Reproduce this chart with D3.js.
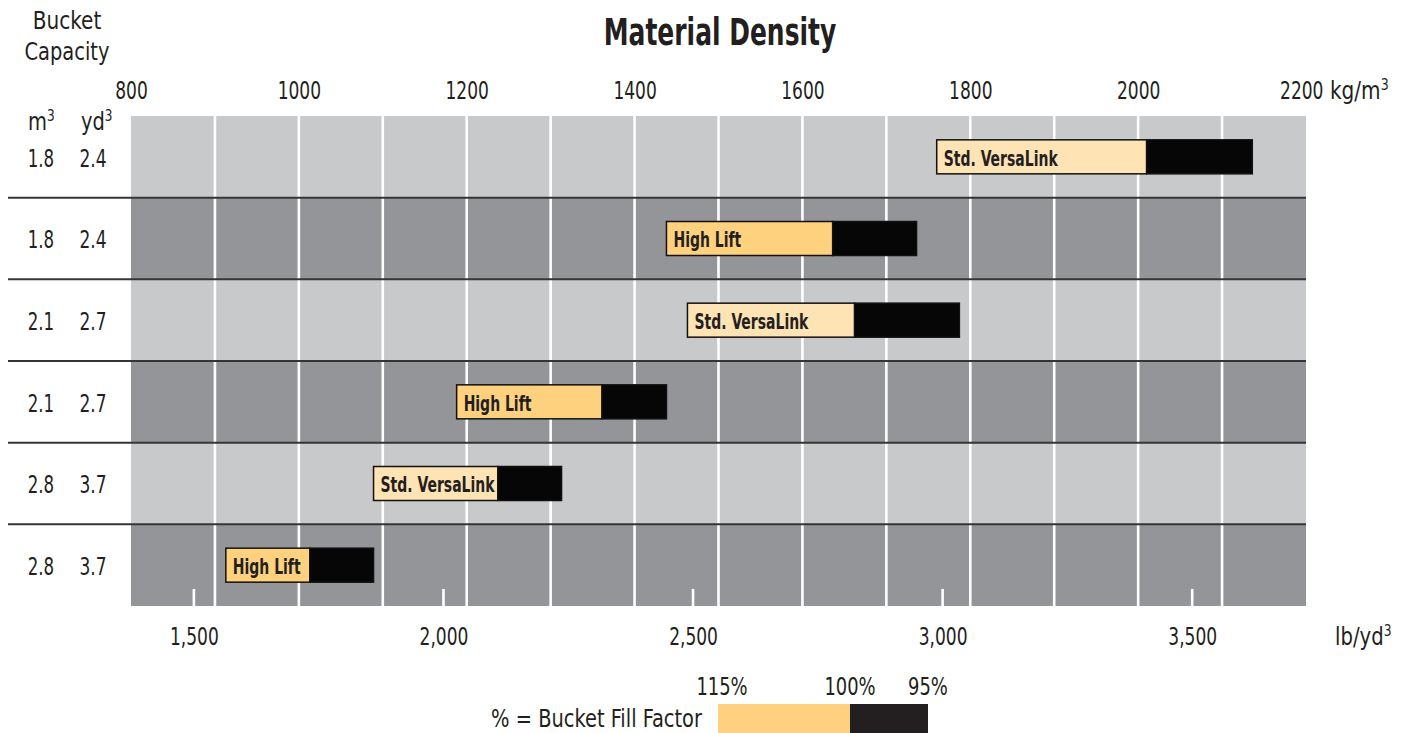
<!DOCTYPE html>
<html lang="en">
<head>
<meta charset="UTF-8">
<title>Material Density</title>
<style>
    body { margin: 0; background: #fff; }
    svg text {
        font-family: "Liberation Sans Narrow", "Arial Narrow", "DejaVu Sans Condensed", sans-serif;
        fill: #231f20;
    }
    .title { font-size: 37px; font-weight: bold; }
    .lbl { font-size: 24px; }
    .bar-label { font-size: 21px; font-weight: bold; }
</style>
</head>
<body>
<div id="chart"></div>
<script src="https://d3js.org/d3.v7.min.js"></script>
<script>
// one row per bucket, top to bottom
const buckets = ["Std. VersaLink", "High Lift", "Std. VersaLink", "High Lift", "Std. VersaLink", "High Lift"];
const capacityM3 = ["1.8", "1.8", "2.1", "2.1", "2.8", "2.8"];
const capacityYd3 = ["2.4", "2.4", "2.7", "2.7", "3.7", "3.7"];
// material density (kg/m3) at 115%, 100% and 95% bucket fill
const density115 = [1760, 1438, 1463, 1188, 1089, 913];
const density100 = [2010, 1636, 1662, 1361, 1237, 1013];
const density95 = [2136, 1736, 1787, 1438, 1313, 1089];

const kgTicks = [800, 1000, 1200, 1400, 1600, 1800, 2000, 2200];
const lbTicks = [1500, 2000, 2500, 3000, 3500];
const fillLabels = ["115%", "100%", "95%"];

const width = 1407, height = 733;
const plotLeft = 131, plotRight = 1306, plotTop = 116, plotBottom = 606;

// squeeze text horizontally around its x so it looks like a condensed face
function condense(sel, s) {
    sel.attr("transform", function() {
        const x0 = +this.getAttribute("x") || 0;
        return `translate(${x0 * (1 - s)},0) scale(${s},1)`;
    });
}

const svg = d3.select("#chart").append("svg")
    .attr("width", width)
    .attr("height", height);

const x = d3.scaleLinear().domain([800, 2200]).range([plotLeft, plotRight]);
// lb/yd3 scale as printed on the original chart
const xLb = d3.scaleLinear().domain([1374, 3728]).range([plotLeft, plotRight]);
const y = d3.scaleBand().domain(d3.range(buckets.length)).range([plotTop, plotBottom]);

// row backgrounds
svg.append("g")
    .selectAll("rect")
    .data(buckets)
    .join("rect")
    .attr("x", plotLeft)
    .attr("y", (d, i) => y(i))
    .attr("width", plotRight - plotLeft)
    .attr("height", y.bandwidth())
    .attr("fill", (d, i) => i % 2 ? "#939598" : "#c8c9cb");

// white grid every 100 kg/m3
svg.append("g")
    .selectAll("line")
    .data(d3.range(900, 2200, 100))
    .join("line")
    .attr("x1", d => x(d)).attr("x2", d => x(d))
    .attr("y1", plotTop).attr("y2", plotBottom)
    .attr("stroke", "#fff")
    .attr("stroke-width", 2.6);

// short white ticks for lb/yd3
svg.append("g")
    .selectAll("line")
    .data(lbTicks)
    .join("line")
    .attr("x1", d => xLb(d)).attr("x2", d => xLb(d))
    .attr("y1", plotBottom - 17).attr("y2", plotBottom)
    .attr("stroke", "#fff")
    .attr("stroke-width", 2.6);

// row separators
svg.append("g")
    .selectAll("line")
    .data(d3.range(1, buckets.length))
    .join("line")
    .attr("x1", 8).attr("x2", plotRight)
    .attr("y1", i => y(i)).attr("y2", i => y(i))
    .attr("stroke", "#363435")
    .attr("stroke-width", 2);

// bars
const barH = 34;
const bars = svg.append("g")
    .selectAll("g")
    .data(buckets)
    .join("g")
    .attr("transform", (d, i) => `translate(0,${y(i) + y.bandwidth() / 2 - barH / 2})`);

bars.append("rect")
    .attr("x", (d, i) => x(density100[i]))
    .attr("width", (d, i) => x(density95[i]) - x(density100[i]))
    .attr("height", barH)
    .attr("fill", "#060606")
    .attr("stroke", "#111")
    .attr("stroke-width", 1.5);

bars.append("rect")
    .attr("x", (d, i) => x(density115[i]))
    .attr("width", (d, i) => x(density100[i]) - x(density115[i]))
    .attr("height", barH)
    .attr("fill", d => d === "High Lift" ? "#fed17f" : "#fee3b5")
    .attr("stroke", "#111")
    .attr("stroke-width", 1.5);

bars.append("text")
    .attr("class", "bar-label")
    .attr("x", (d, i) => x(density115[i]) + 7)
    .attr("y", barH / 2 + 9)
    .text(d => d)
    .call(condense, 0.74);

// top axis (kg/m3)
const topAxis = svg.append("g")
    .attr("transform", `translate(0,${plotTop})`)
    .call(d3.axisTop(x).tickValues(kgTicks).tickSize(0).tickPadding(17).tickFormat(d3.format("d")));
topAxis.select(".domain").remove();
topAxis.selectAll("text").attr("class", "lbl").call(condense, 0.79);
// last label sits a little left to leave room for the unit
topAxis.selectAll(".tick").filter(d => d === 2200).select("text").attr("dx", -6);

const kgUnit = svg.append("text")
    .attr("class", "lbl")
    .attr("x", 1330)
    .attr("y", plotTop - 17)
    .text("kg/m");
kgUnit.append("tspan").attr("dy", -9).style("font-size", "15px").text("3");
kgUnit.call(condense, 0.93);

// bottom axis (lb/yd3)
const bottomAxis = svg.append("g")
    .attr("transform", `translate(0,${plotBottom})`)
    .call(d3.axisBottom(xLb).tickValues(lbTicks).tickSize(0).tickPadding(22).tickFormat(d3.format(",")));
bottomAxis.select(".domain").remove();
bottomAxis.selectAll("text").attr("class", "lbl").call(condense, 0.79);

const lbUnit = svg.append("text")
    .attr("class", "lbl")
    .attr("x", 1335)
    .attr("y", 645)
    .text("lb/yd");
lbUnit.append("tspan").attr("dy", -9).style("font-size", "15px").text("3");
lbUnit.call(condense, 0.91);

// title
svg.append("text")
    .attr("class", "title")
    .attr("x", 720)
    .attr("y", 45)
    .attr("text-anchor", "middle")
    .text("Material Density")
    .call(condense, 0.75);

// bucket capacity header
svg.append("text").attr("class", "lbl").attr("x", 67).attr("y", 29)
    .attr("text-anchor", "middle").text("Bucket").call(condense, 0.93);
svg.append("text").attr("class", "lbl").attr("x", 67).attr("y", 60)
    .attr("text-anchor", "middle").text("Capacity").call(condense, 0.9);

const m3 = svg.append("text").attr("class", "lbl").attr("x", 28).attr("y", 130).text("m");
m3.append("tspan").attr("dy", -9).style("font-size", "15px").text("3");
m3.call(condense, 0.9);
const yd3 = svg.append("text").attr("class", "lbl").attr("x", 81).attr("y", 130).text("yd");
yd3.append("tspan").attr("dy", -9).style("font-size", "15px").text("3");
yd3.call(condense, 0.9);

svg.append("g")
    .selectAll("text")
    .data(capacityM3)
    .join("text")
    .attr("class", "lbl")
    .attr("x", 41)
    .attr("y", (d, i) => y(i) + y.bandwidth() / 2 + 10)
    .attr("text-anchor", "middle")
    .text(d => d)
    .call(condense, 0.77);

svg.append("g")
    .selectAll("text")
    .data(capacityYd3)
    .join("text")
    .attr("class", "lbl")
    .attr("x", 93)
    .attr("y", (d, i) => y(i) + y.bandwidth() / 2 + 10)
    .attr("text-anchor", "middle")
    .text(d => d)
    .call(condense, 0.79);

// legend
const legendX = d3.scaleOrdinal().domain(fillLabels).range([718, 850, 928]);
const legendTop = 704;
svg.append("rect")
    .attr("x", legendX("115%"))
    .attr("y", legendTop)
    .attr("width", legendX("100%") - legendX("115%"))
    .attr("height", height - legendTop)
    .attr("fill", "#fed07f");
svg.append("rect")
    .attr("x", legendX("100%"))
    .attr("y", legendTop)
    .attr("width", legendX("95%") - legendX("100%"))
    .attr("height", height - legendTop)
    .attr("fill", "#231f20");

svg.append("g")
    .selectAll("text")
    .data(fillLabels)
    .join("text")
    .attr("class", "lbl")
    .attr("x", (d, i) => legendX(d) + (i === 0 ? 4 : 0))
    .attr("y", 695)
    .attr("text-anchor", "middle")
    .text(d => d)
    .call(condense, 0.83);

svg.append("text")
    .attr("class", "lbl")
    .attr("x", 702)
    .attr("y", 727)
    .attr("text-anchor", "end")
    .text("% = Bucket Fill Factor")
    .call(condense, 0.9);
</script>
</body>
</html>
